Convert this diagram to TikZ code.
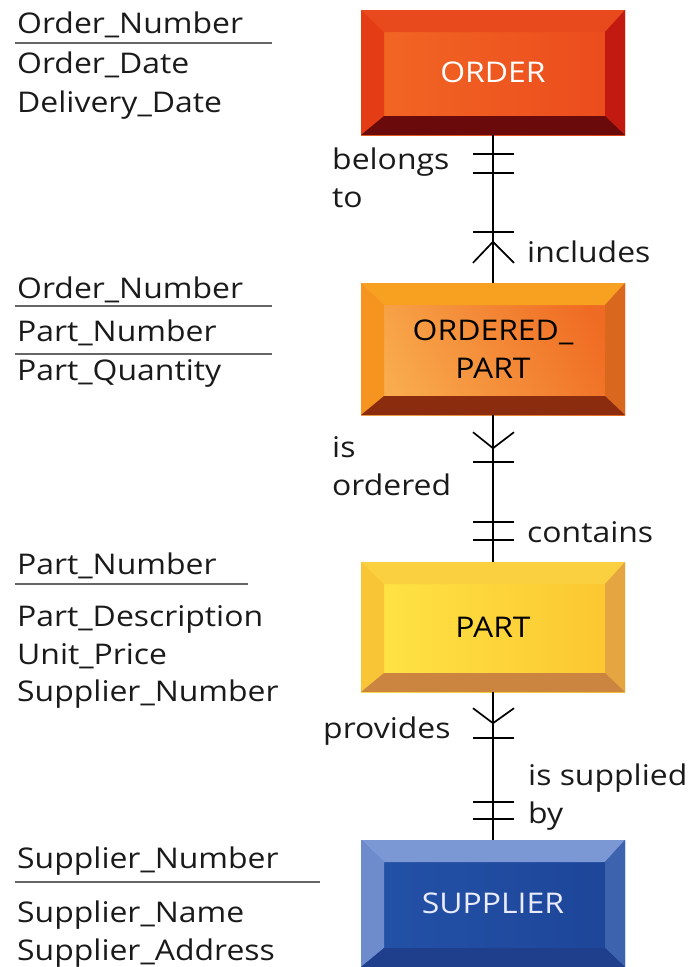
\documentclass[tikz,border=0pt]{standalone}
\usepackage{fontspec}
\setmainfont{Open Sans}[FakeStretch=1.12]
\usetikzlibrary{calc}

% face, bevels: top, left, right, bottom
\definecolor{orderA}{HTML}{F26824}\definecolor{orderB}{HTML}{EB4A1C}
\definecolor{orderT}{HTML}{E84A1E}\definecolor{orderL}{HTML}{E43C15}
\definecolor{orderR}{HTML}{C21A10}\definecolor{orderD}{HTML}{6B0A0A}
\definecolor{opartA}{HTML}{F9AC4E}\definecolor{opartB}{HTML}{EF6A22}
\definecolor{opartT}{HTML}{F8A020}\definecolor{opartL}{HTML}{F69420}
\definecolor{opartR}{HTML}{D9681E}\definecolor{opartD}{HTML}{8B2C0E}
\definecolor{partA}{HTML}{FFE545}\definecolor{partB}{HTML}{FBC530}
\definecolor{partT}{HTML}{FAD040}\definecolor{partL}{HTML}{F7C535}
\definecolor{partR}{HTML}{E5A540}\definecolor{partD}{HTML}{CB8540}
\definecolor{suppA}{HTML}{2352A8}\definecolor{suppB}{HTML}{1D4598}
\definecolor{suppT}{HTML}{7C98D4}\definecolor{suppL}{HTML}{6E8CCB}
\definecolor{suppR}{HTML}{3D63AE}\definecolor{suppD}{HTML}{1F3E8C}
\definecolor{ink}{HTML}{1A1A1A}

% crow's foot marks on the relationship lines
\newcommand{\barmark}[2]{\draw[link] ($(#1)+(-20,#2)$) -- ++(41,0);}
\newcommand{\crowmark}[3]{\draw[link] ($(#1)+(-20,#3)$) -- ($(#1)+(0,#2)$) -- ($(#1)+(21,#3)$);}

\tikzset{
  entity/.style n args={6}{
    rectangle, minimum width=264bp, inner sep=0pt, align=center,
    left color=#1, right color=#2,
    path picture={
      \coordinate (p1) at (path picture bounding box.north west);
      \coordinate (p2) at (path picture bounding box.north east);
      \coordinate (p3) at (path picture bounding box.south east);
      \coordinate (p4) at (path picture bounding box.south west);
      \coordinate (q1) at ([shift={(23bp,-22bp)}]p1);
      \coordinate (q2) at ([shift={(-20bp,-22bp)}]p2);
      \coordinate (q3) at ([shift={(-20bp,19bp)}]p3);
      \coordinate (q4) at ([shift={(23bp,19bp)}]p4);
      \fill[#3] (p1) -- (p2) -- (q2) -- (q1) -- cycle;
      \fill[#4] (p1) -- (q1) -- (q4) -- (p4) -- cycle;
      \fill[#5] (p2) -- (p3) -- (q3) -- (q2) -- cycle;
      \fill[#6] (p4) -- (q4) -- (q3) -- (p3) -- cycle;
    }
  },
  attr/.style={anchor=base west, inner sep=0pt, text=ink},
  rel/.style={anchor=base west, inner sep=0pt, align=left, text=ink},
  keyline/.style={draw=black!60, line width=1.4bp},
  link/.style={draw=black, line width=1.7bp}
}

\begin{document}
\begin{tikzpicture}[x={(1bp,0)}, y={(0,-1bp)}, font=\fontsize{28.6}{38}\selectfont]
  \useasboundingbox (0,0) rectangle (690,967);

  % Entities
  \node[entity={orderA}{orderB}{orderT}{orderL}{orderR}{orderD}, minimum height=125bp, text=white]
    (order) at (493,72.5) {ORDER};
  \node[entity={opartA}{opartB}{opartT}{opartL}{opartR}{opartD}, minimum height=132bp, text=black,
    shading angle=120] (opart) at (493,349) {ORDERED\_\\PART};
  \node[entity={partA}{partB}{partT}{partL}{partR}{partD}, minimum height=130bp, text=black]
    (part) at (493,627) {PART};
  \node[entity={suppA}{suppB}{suppT}{suppL}{suppR}{suppD}, minimum height=127bp, text=white!92!blue]
    (supp) at (493,903.5) {SUPPLIER};

  % Attributes
  \node[attr] (ordkey) at (17,33) {Order\_Number};
  \node[attr] (orda) at (17,73) {Order\_Date};
  \node[attr] (ordb) at (17,112) {Delivery\_Date};
  \draw[keyline] (15,43) -- (272,43);

  \node[attr] (opkeya) at (17,298) {Order\_Number};
  \node[attr] (opkeyb) at (17,341) {Part\_Number};
  \node[attr] (opa) at (17,380) {Part\_Quantity};
  \draw[keyline] (15,306) -- (272,306);
  \draw[keyline] (15,354) -- (272,354);

  \node[attr] (ptkey) at (17,574) {Part\_Number};
  \node[attr] (pta) at (17,626) {Part\_Description};
  \node[attr] (ptb) at (17,664) {Unit\_Price};
  \node[attr] (ptc) at (17,701) {Supplier\_Number};
  \draw[keyline] (15,584) -- (248,584);

  \node[attr] (spkey) at (17,868) {Supplier\_Number};
  \node[attr] (spa) at (17,922) {Supplier\_Name};
  \node[attr] (spb) at (17,960) {Supplier\_Address};
  \draw[keyline] (15,882) -- (320,882);

  % Relationships
  \draw[link] (order) -- (opart);
  \draw[link] (opart) -- (part);
  \draw[link] (part) -- (supp);

  \barmark{order.south}{19}
  \barmark{order.south}{38}
  \barmark{opart.north}{-51}
  \crowmark{opart.north}{-41}{-20}

  \crowmark{opart.south}{33}{17}
  \barmark{opart.south}{47}
  \barmark{part.north}{-40}
  \barmark{part.north}{-22}

  \crowmark{part.south}{31}{16}
  \barmark{part.south}{46}
  \barmark{supp.north}{-38}
  \barmark{supp.north}{-21}

  \node[rel] (belongs) at (332,207) {belongs\\to};
  \node[rel] (includes) at (527,262) {includes};
  \node[rel] (isordered) at (332,495) {is\\ordered};
  \node[rel] (contains) at (527,542) {contains};
  \node[rel] (provides) at (323,738) {provides};
  \node[rel] (supplied) at (528,823) {is supplied\\by};
\end{tikzpicture}
\end{document}
